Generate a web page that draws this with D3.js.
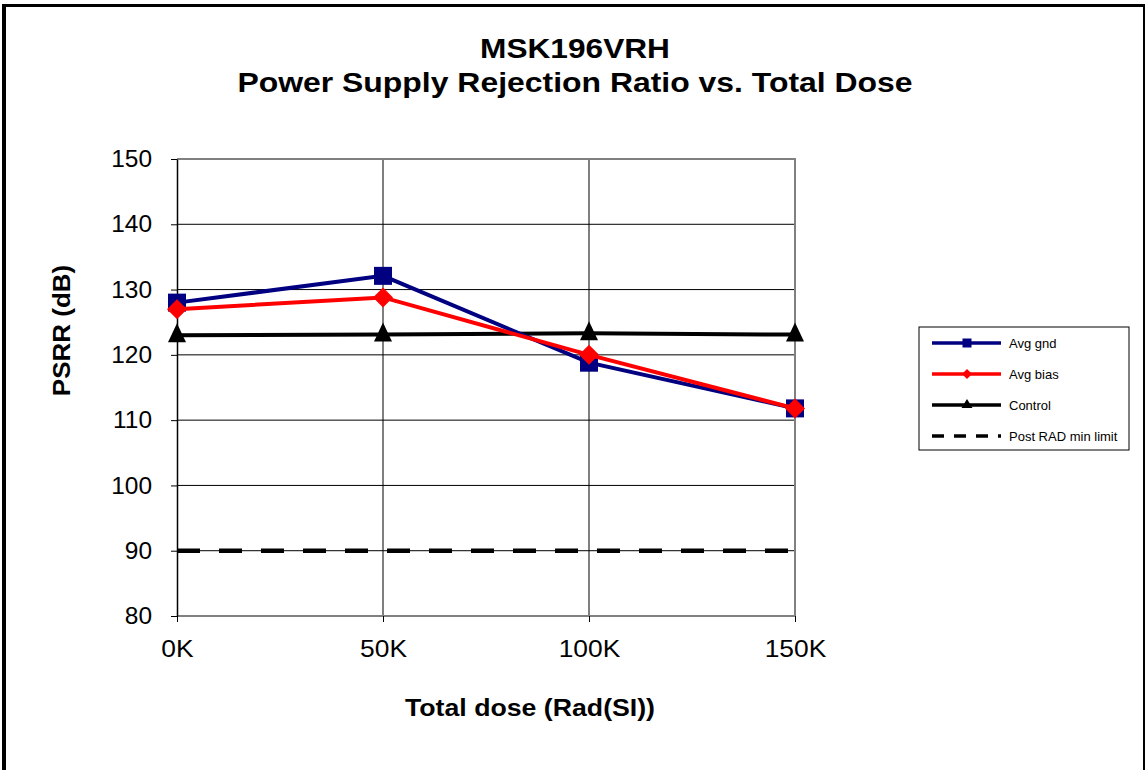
<!DOCTYPE html>
<html lang="en">
<head>
  <meta charset="UTF-8">
  <title>MSK196VRH PSRR vs. Total Dose</title>
  <style>
    body { margin: 0; background: #fff; }
    svg { display: block; font-family: "Liberation Sans", Arial, sans-serif; }
  </style>
</head>
<body>
  <div id="chart"></div>
  <script src="https://d3js.org/d3.v7.min.js"></script>
  <script>
    const width = 1146
    const height = 770

    // data
    const doses = ['0K', '50K', '100K', '150K']
    const avgGnd = [128.0, 132.1, 118.8, 111.8]
    const avgBias = [127.0, 128.8, 120.0, 111.8]
    const control = [123.0, 123.1, 123.3, 123.1]
    const limit = [90, 90, 90, 90]
    const yTicks = [80, 90, 100, 110, 120, 130, 140, 150]

    const plot = { left: 177, right: 795, top: 159, bottom: 616 }

    const svg = d3.select('#chart').append('svg')
      .attr('width', width)
      .attr('height', height)

    // widen text horizontally, the source font is a bit broader
    function stretch(sel, k) {
      sel.each(function () {
        const w = this.getComputedTextLength()
        d3.select(this).attr('textLength', w * k).attr('lengthAdjust', 'spacingAndGlyphs')
      })
    }

    // outer frame
    svg.append('rect')
      .attr('x', 4).attr('y', 5)
      .attr('width', 1140).attr('height', 820)
      .attr('fill', '#fff').attr('stroke', '#000').attr('stroke-width', 2)
    svg.append('line').attr('x1', 4).attr('x2', 4).attr('y1', 4).attr('y2', height)
      .attr('stroke', '#000').attr('stroke-width', 4)
    svg.append('line').attr('x1', 2).attr('x2', 1145).attr('y1', 5.5).attr('y2', 5.5)
      .attr('stroke', '#000').attr('stroke-width', 3)

    const x = d3.scalePoint().domain(doses).range([plot.left, plot.right])
    const y = d3.scaleLinear().domain([80, 150]).range([plot.bottom, plot.top])

    // gridlines
    svg.append('g')
      .selectAll('line')
      .data(yTicks.slice(1, -1))
      .join('line')
      .attr('x1', plot.left).attr('x2', plot.right)
      .attr('y1', d => y(d)).attr('y2', d => y(d))
      .attr('stroke', '#000').attr('stroke-width', 1)
    svg.append('g')
      .selectAll('line')
      .data(doses.slice(1, -1))
      .join('line')
      .attr('x1', d => x(d)).attr('x2', d => x(d))
      .attr('y1', plot.top).attr('y2', plot.bottom)
      .attr('stroke', '#000').attr('stroke-width', 1)

    // plot border (gray top/right/bottom)
    svg.append('path')
      .attr('d', `M${plot.left},${plot.top}H${plot.right}V${plot.bottom}H${plot.left}`)
      .attr('fill', 'none').attr('stroke', '#808080').attr('stroke-width', 2)

    // axes
    const yAxis = svg.append('g')
      .attr('transform', `translate(${plot.left},0)`)
      .call(d3.axisLeft(y).tickValues(yTicks).tickSize(6).tickSizeOuter(0).tickPadding(19))
    yAxis.select('.domain').attr('stroke', '#000').attr('stroke-width', 1.5)
    yAxis.selectAll('.tick line').attr('stroke', '#000')
    yAxis.selectAll('text').attr('font-size', 24).attr('fill', '#000')
      .attr('font-family', '"Liberation Sans", Arial, sans-serif')
      .call(stretch, 1.02)

    const xAxis = svg.append('g')
      .attr('transform', `translate(0,${plot.bottom})`)
      .call(d3.axisBottom(x).tickSize(6).tickSizeOuter(0).tickPadding(18))
    xAxis.select('.domain').remove()
    xAxis.selectAll('.tick line').attr('stroke', '#000')
    xAxis.selectAll('text').attr('font-size', 24).attr('fill', '#000')
      .attr('font-family', '"Liberation Sans", Arial, sans-serif')
      .call(stretch, 1.1)

    // titles
    const title = svg.append('g')
      .attr('text-anchor', 'middle').attr('font-weight', 'bold').attr('font-size', 28)
    title.append('text').attr('x', 575).attr('y', 58).text('MSK196VRH')
      .call(stretch, 1.13)
    title.append('text').attr('x', 575).attr('y', 92).text('Power Supply Rejection Ratio vs. Total Dose')
      .call(stretch, 1.14)

    svg.append('text')
      .attr('x', 530).attr('y', 716)
      .attr('text-anchor', 'middle').attr('font-weight', 'bold').attr('font-size', 23)
      .text('Total dose (Rad(SI))')
      .call(stretch, 1.16)

    svg.append('text')
      .attr('transform', `translate(70,${(plot.top + plot.bottom) / 2 - 57}) rotate(-90)`)
      .attr('text-anchor', 'middle').attr('font-weight', 'bold').attr('font-size', 23)
      .text('PSRR (dB)')
      .call(stretch, 1.13)

    const series = [
      { name: 'Avg gnd', values: avgGnd, color: '#000080', shape: 'square' },
      { name: 'Avg bias', values: avgBias, color: '#ff0000', shape: 'diamond' },
      { name: 'Control', values: control, color: '#000000', shape: 'triangle' },
      { name: 'Post RAD min limit', values: limit, color: '#000000', shape: 'none', dash: '23 19' }
    ]

    const line = d3.line().x((d, i) => x(doses[i])).y(d => y(d))

    function marker(shape, size) {
      if (shape === 'square') return d3.symbol(d3.symbolSquare, size * size)()
      if (shape === 'diamond') {
        const h = size / 2
        return `M0,${-h}L${h},0L0,${h}L${-h},0Z`
      }
      if (shape === 'triangle') {
        const h = size / 2
        return `M0,${-h - 3}L${h},${h - 2}L${-h},${h - 2}Z`
      }
      return null
    }

    const sizes = { square: 18, diamond: 20, triangle: 18 }

    // draw the limit first, then the others on top
    ;[series[3], series[2], series[0], series[1]].forEach(s => {
      svg.append('path')
        .datum(s.values)
        .attr('d', line)
        .attr('fill', 'none')
        .attr('stroke', s.color)
        .attr('stroke-width', s.dash ? 4.5 : 4)
        .attr('stroke-dasharray', s.dash || null)
      if (s.shape !== 'none') {
        svg.append('g')
          .selectAll('path')
          .data(s.values)
          .join('path')
          .attr('transform', (d, i) => `translate(${x(doses[i])},${y(d)})`)
          .attr('d', marker(s.shape, sizes[s.shape]))
          .attr('fill', s.color)
      }
    })

    // legend
    const legend = svg.append('g').attr('transform', 'translate(919,327)')
    legend.append('rect')
      .attr('width', 210).attr('height', 123)
      .attr('fill', '#fff').attr('stroke', '#000').attr('stroke-width', 1)
    const items = legend.selectAll('g.item')
      .data(series)
      .join('g')
      .attr('class', 'item')
      .attr('transform', (d, i) => `translate(0,${16 + i * 31})`)
    items.append('line')
      .attr('x1', 13).attr('x2', 82)
      .attr('stroke', d => d.color)
      .attr('stroke-width', 3.5)
      .attr('stroke-dasharray', d => d.dash ? '12 10' : null)
    items.filter(d => d.shape !== 'none')
      .append('path')
      .attr('transform', 'translate(48,0)')
      .attr('d', d => d.shape === 'square' ? d3.symbol(d3.symbolSquare, 81)()
        : d.shape === 'diamond' ? 'M0,-5L5,0L0,5L-5,0Z'
        : 'M0,-6L5.5,3L-5.5,3Z')
      .attr('fill', d => d.color)
    items.append('text')
      .attr('x', 90).attr('y', 4.5)
      .attr('font-size', 13)
      .text(d => d.name)
  </script>
</body>
</html>
